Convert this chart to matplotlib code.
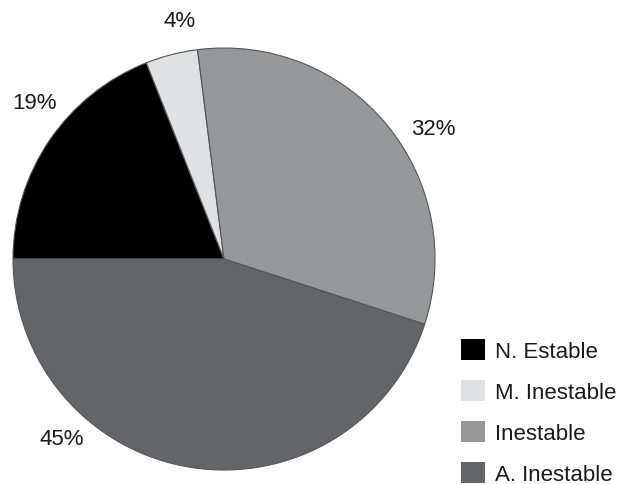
import matplotlib
matplotlib.use("Agg")
import matplotlib.pyplot as plt
from matplotlib.patches import Patch
from matplotlib import font_manager

# datos del grafico
categorias = ["N. Estable", "M. Inestable", "Inestable", "A. Inestable"]
porcentajes = [19, 4, 32, 45]
colores = ["#000000", "#e0e1e3", "#97989a", "#636569"]
etiquetas = ["19%", "4%", "32%", "45%"]

# posiciones de las etiquetas (coordenadas del eje)
pos_etiquetas = [(-0.90, 0.74), (-0.21, 1.13), (0.99, 0.62), (-0.77, -0.85)]

disponibles = {f.name for f in font_manager.fontManager.ttflist}
fuente = "Liberation Sans Narrow" if "Liberation Sans Narrow" in disponibles else "Liberation Sans"
plt.rcParams["font.family"] = [fuente, "DejaVu Sans"]

fig = plt.figure(figsize=(6.21, 4.85), dpi=100)
ax = fig.add_axes([13 / 621, 14 / 485, 422 / 621, 422 / 485])

ax.pie(porcentajes, colors=colores, startangle=180, counterclock=False,
       radius=1.0, wedgeprops=dict(edgecolor="#555555", linewidth=0.8))

for texto, (x, y) in zip(etiquetas, pos_etiquetas):
    ax.text(x, y, texto, ha="center", va="center", fontsize=16, color="#1a1a1a")

ax.set_xlim(-1, 1)
ax.set_ylim(-1, 1)
ax.set_aspect("equal")
ax.axis("off")

handles = [Patch(facecolor=c, edgecolor="none") for c in colores]
fig.legend(handles, categorias, loc="upper left",
           bbox_to_anchor=(461 / 621, 1 - 340 / 485), frameon=False,
           fontsize=16, handlelength=1.1, handleheight=1.1, handletextpad=0.45,
           labelspacing=0.8, borderpad=0, borderaxespad=0, labelcolor="#1a1a1a")

fig.savefig("out.png", dpi=100)
